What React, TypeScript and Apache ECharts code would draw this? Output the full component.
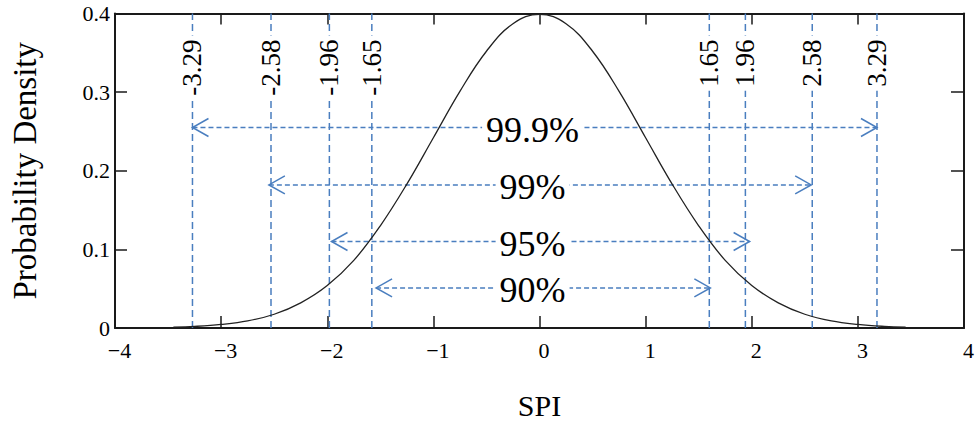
import React, { useEffect, useRef } from "react";
import * as echarts from "echarts";

const FONT = "Liberation Serif";
const BLUE = "#4a7ebf";
const INK = "#1a1a1a";

// Normal density curve
const curveX = [-3.45, -3.25, -3.0, -2.75, -2.5, -2.25, -2.0, -1.75, -1.5, -1.25, -1.0, -0.75, -0.5, -0.25, 0, 0.25, 0.5, 0.75, 1.0, 1.25, 1.5, 1.75, 2.0, 2.25, 2.5, 2.75, 3.0, 3.25, 3.45];
const curveY = [0.001, 0.002, 0.0045, 0.009, 0.0175, 0.032, 0.054, 0.086, 0.13, 0.183, 0.242, 0.301, 0.352, 0.387, 0.399, 0.387, 0.352, 0.301, 0.242, 0.183, 0.13, 0.086, 0.054, 0.032, 0.0175, 0.009, 0.0045, 0.002, 0.001];

// Critical value dashed lines (position as drawn, label as written)
const criticalX = [-3.27, -2.53, -1.98, -1.58, 1.6, 1.94, 2.57, 3.18];
const criticalLabels = ["-3.29", "-2.58", "-1.96", "-1.65", "1.65", "1.96", "2.58", "3.29"];
const criticalLabelTopY = 0.372;

// Confidence interval arrows
const intervalNames = ["99.9%", "99%", "95%", "90%"];
const intervalFrom = [-3.27, -2.55, -1.96, -1.54];
const intervalTo = [3.18, 2.56, 1.98, 1.61];
const intervalY = [0.255, 0.182, 0.11, 0.051];
const intervalLabelX = -0.065;

export default function App() {
  const ref = useRef<HTMLDivElement>(null);

  useEffect(() => {
    if (!ref.current) return;
    const chart = echarts.init(ref.current, undefined, { renderer: "svg" });

    const axisLine = { show: true, onZero: false, lineStyle: { color: INK, width: 2 } };
    const tickStyle = { color: INK, width: 1.5 };

    const option: any = {
      animation: false,
      backgroundColor: "#ffffff",
      textStyle: { fontFamily: FONT },
      grid: { left: 112, right: 4.5, top: 13.5, bottom: 91.5, containLabel: false },
      xAxis: [
        {
          type: "value",
          min: -4,
          max: 4,
          interval: 1,
          position: "bottom",
          axisLine,
          axisTick: { show: true, inside: true, length: 12, lineStyle: tickStyle },
          splitLine: { show: false },
          axisLabel: {
            color: "#000",
            fontFamily: FONT,
            fontSize: 22,
            margin: 11,
            padding: [0, 0, 0, 9],
            formatter: (v: number) => (v < 0 ? "\u2212" + Math.abs(v) : String(v)),
          },
          name: "SPI",
          nameLocation: "middle",
          nameGap: 62,
          nameTextStyle: { color: "#000", fontFamily: FONT, fontSize: 30 },
        },
        {
          type: "value",
          min: -4,
          max: 4,
          interval: 1,
          position: "top",
          axisLine,
          axisTick: { show: true, inside: true, length: 11, lineStyle: tickStyle },
          axisLabel: { show: false },
          splitLine: { show: false },
        },
      ],
      yAxis: [
        {
          type: "value",
          min: 0,
          max: 0.4,
          interval: 0.1,
          position: "left",
          axisLine,
          axisTick: { show: true, inside: true, length: 12, lineStyle: tickStyle },
          splitLine: { show: false },
          axisLabel: {
            color: "#000",
            fontFamily: FONT,
            fontSize: 22,
            margin: 5,
            formatter: (v: number) => (v === 0 ? "0" : v.toFixed(1)),
          },
          name: "Probability Density",
          nameLocation: "middle",
          nameGap: 74,
          nameTextStyle: { color: "#000", fontFamily: FONT, fontSize: 33 },
        },
        {
          type: "value",
          min: 0,
          max: 0.4,
          interval: 0.1,
          position: "right",
          axisLine,
          axisTick: { show: true, inside: true, length: 13, lineStyle: tickStyle },
          axisLabel: { show: false },
          splitLine: { show: false },
        },
      ],
      series: [
        {
          type: "custom",
          name: "critical",
          xAxisIndex: 0,
          yAxisIndex: 0,
          encode: { x: 0, y: 1 },
          data: criticalX.map((x) => [x, 0]),
          z: 2,
          renderItem: (params: any, api: any) => {
            const x = api.value(0);
            const p0 = api.coord([x, 0]);
            const p1 = api.coord([x, 0.4]);
            const pl = api.coord([x, criticalLabelTopY]);
            return {
              type: "group",
              children: [
                {
                  type: "line",
                  shape: { x1: p0[0], y1: p0[1], x2: p1[0], y2: p1[1] },
                  style: { stroke: BLUE, lineWidth: 1.5, lineDash: [7, 4] },
                },
                {
                  type: "text",
                  x: pl[0],
                  y: pl[1],
                  rotation: Math.PI / 2,
                  style: {
                    text: criticalLabels[params.dataIndex],
                    fontFamily: FONT,
                    fontSize: 27,
                    fill: "#000",
                    align: "right",
                    verticalAlign: "middle",
                    backgroundColor: "#ffffff",
                    padding: [0, 4, 0, 4],
                  },
                },
              ],
            };
          },
        },
        {
          type: "custom",
          name: "intervals",
          xAxisIndex: 0,
          yAxisIndex: 0,
          encode: { x: [0, 1], y: 2 },
          data: intervalNames.map((_, i) => [intervalFrom[i], intervalTo[i], intervalY[i]]),
          z: 3,
          renderItem: (params: any, api: any) => {
            const y = api.value(2);
            const pL = api.coord([api.value(0), y]);
            const pR = api.coord([api.value(1), y]);
            const pT = api.coord([intervalLabelX, y]);
            const L = 16;
            const H = 9;
            return {
              type: "group",
              children: [
                {
                  type: "line",
                  shape: { x1: pL[0], y1: pL[1], x2: pR[0], y2: pR[1] },
                  style: { stroke: BLUE, lineWidth: 1.5, lineDash: [5, 3] },
                },
                {
                  type: "polyline",
                  shape: { points: [[pL[0] + L, pL[1] - H], [pL[0], pL[1]], [pL[0] + L, pL[1] + H]] },
                  style: { stroke: BLUE, lineWidth: 1.5, fill: "none" },
                },
                {
                  type: "polyline",
                  shape: { points: [[pR[0] - L, pR[1] - H], [pR[0], pR[1]], [pR[0] - L, pR[1] + H]] },
                  style: { stroke: BLUE, lineWidth: 1.5, fill: "none" },
                },
                {
                  type: "text",
                  x: pT[0],
                  y: pT[1] + 2,
                  style: {
                    text: intervalNames[params.dataIndex],
                    fontFamily: FONT,
                    fontSize: 36,
                    fill: "#000",
                    align: "center",
                    verticalAlign: "middle",
                    backgroundColor: "#ffffff",
                    padding: [0, 4, 0, 4],
                  },
                },
              ],
            };
          },
        },
        {
          type: "line",
          name: "density",
          xAxisIndex: 0,
          yAxisIndex: 0,
          data: curveX.map((x, i) => [x, curveY[i]]),
          smooth: 0.4,
          showSymbol: false,
          symbol: "none",
          z: 4,
          lineStyle: { color: "#222", width: 1.3 },
        },
      ],
    };

    chart.setOption(option);
    return () => chart.dispose();
  }, []);

  return (
    <div
      ref={ref}
      style={{ position: "absolute", left: 0, top: 0, width: 977, height: 425, background: "#fff" }}
    />
  );
}
